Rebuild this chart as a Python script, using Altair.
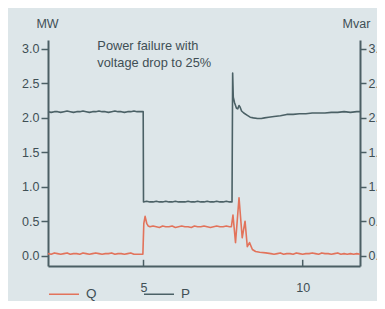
import altair as alt
import pandas as pd

# ---- data ----
p_time = [2.0, 2.1, 2.2, 2.3, 2.4, 2.5, 2.6, 2.7, 2.8, 2.9,
          3.0, 3.1, 3.2, 3.3, 3.4, 3.5, 3.6, 3.7, 3.8, 3.9,
          4.0, 4.1, 4.2, 4.3, 4.4, 4.5, 4.6, 4.7, 4.8, 4.9, 4.99,
          5.0, 5.1, 5.2, 5.3, 5.4, 5.5, 5.6, 5.7, 5.8, 5.9,
          6.0, 6.1, 6.2, 6.3, 6.4, 6.5, 6.6, 6.7, 6.8, 6.9,
          7.0, 7.1, 7.2, 7.3, 7.4, 7.5, 7.6, 7.7, 7.78,
          7.80, 7.82, 7.86, 7.92, 7.96, 8.00, 8.03, 8.08, 8.15, 8.25,
          8.35, 8.45, 8.58, 8.7, 8.8, 8.93, 9.1, 9.3, 9.5, 9.7,
          9.9, 10.1, 10.3, 10.5, 10.7, 10.9, 11.1, 11.3, 11.5, 11.7, 11.8]
p_value = [2.09, 2.08, 2.09, 2.09, 2.08, 2.09, 2.10, 2.09, 2.08, 2.09,
           2.09, 2.10, 2.09, 2.08, 2.09, 2.09, 2.10, 2.09, 2.09, 2.08,
           2.09, 2.10, 2.09, 2.09, 2.08, 2.09, 2.09, 2.10, 2.09, 2.09, 2.09,
           0.78, 0.79, 0.78, 0.78, 0.79, 0.78, 0.78, 0.79, 0.78, 0.78,
           0.79, 0.78, 0.78, 0.78, 0.79, 0.78, 0.78, 0.79, 0.78, 0.78,
           0.79, 0.78, 0.78, 0.79, 0.78, 0.78, 0.79, 0.78, 0.78,
           2.65, 2.30, 2.22, 2.14, 2.13, 2.18, 2.16, 2.10, 2.07, 2.04,
           2.01, 2.00, 1.99, 1.99, 2.00, 2.01, 2.02, 2.03, 2.05, 2.05,
           2.06, 2.06, 2.07, 2.07, 2.07, 2.08, 2.08, 2.09, 2.08, 2.09, 2.09]

q_time = [2.0, 2.1, 2.2, 2.3, 2.4, 2.5, 2.6, 2.7, 2.8, 2.9,
          3.0, 3.1, 3.2, 3.3, 3.4, 3.5, 3.6, 3.7, 3.8, 3.9,
          4.0, 4.1, 4.2, 4.3, 4.4, 4.5, 4.6, 4.7, 4.8, 4.9, 4.98,
          5.01, 5.05, 5.10, 5.15,
          5.2, 5.3, 5.4, 5.5, 5.6, 5.7, 5.8, 5.9, 6.0, 6.1,
          6.2, 6.3, 6.4, 6.5, 6.6, 6.7, 6.8, 6.9, 7.0, 7.1,
          7.2, 7.3, 7.4, 7.5, 7.6, 7.7,
          7.76, 7.81, 7.89, 8.00, 8.10, 8.19, 8.26, 8.33, 8.42, 8.52,
          8.65, 8.84, 9.0,
          9.1, 9.2, 9.3, 9.4, 9.5, 9.6, 9.7, 9.8, 9.9, 10.0,
          10.1, 10.2, 10.3, 10.4, 10.5, 10.6, 10.7, 10.8, 10.9, 11.0,
          11.1, 11.2, 11.3, 11.4, 11.5, 11.6, 11.7, 11.8]
q_value = [0.03, 0.02, 0.04, 0.03, 0.02, 0.03, 0.04, 0.02, 0.03, 0.03,
           0.02, 0.04, 0.03, 0.02, 0.03, 0.04, 0.03, 0.02, 0.03, 0.03,
           0.04, 0.02, 0.03, 0.03, 0.02, 0.03, 0.04, 0.02, 0.02, 0.02, 0.02,
           0.47, 0.57, 0.47, 0.43,
           0.42, 0.43, 0.42, 0.41, 0.43, 0.42, 0.42, 0.43, 0.41, 0.42,
           0.43, 0.42, 0.42, 0.41, 0.43, 0.42, 0.42, 0.43, 0.42, 0.41,
           0.42, 0.43, 0.42, 0.42, 0.43, 0.42,
           0.42, 0.59, 0.19, 0.84, 0.26, 0.50, 0.13, 0.19, 0.09, 0.06,
           0.05, 0.04, 0.03,
           0.02, 0.03, 0.04, 0.02, 0.03, 0.03, 0.02, 0.04, 0.03, 0.02,
           0.03, 0.03, 0.04, 0.03, 0.02, 0.04, 0.03, 0.03, 0.02, 0.03,
           0.04, 0.02, 0.03, 0.02, 0.03, 0.02, 0.03, 0.02]

series_names = ["Q", "P"]
series_colors = ["#e2735b", "#4b6166"]
x_ticks = [5, 10]
y_ticks = [0.0, 0.5, 1.0, 1.5, 2.0, 2.5, 3.0]
note_lines = ["Power failure with", "voltage drop to 25%"]
note_x = [3.55, 3.55]
note_y = [2.985, 2.74]

# ---- tables ----
df = pd.concat([
    pd.DataFrame({"t": q_time, "v": q_value, "s": "Q", "i": range(len(q_time))}),
    pd.DataFrame({"t": p_time, "v": p_value, "s": "P", "i": range(len(p_time))}),
], ignore_index=True)
notes = pd.DataFrame({"x": note_x, "y": note_y, "text": note_lines})
ticks = pd.DataFrame({"x": x_ticks, "y": [-0.15] * len(x_ticks), "y2": [-0.06] * len(x_ticks)})

BG = "#dde6e9"
INK = "#3f4f55"
AX = "#4b5f64"
FONT = "Liberation Sans, Arial, sans-serif"

xs = alt.Scale(domain=[2.0, 11.8], nice=False, zero=False)
ys = alt.Scale(domain=[-0.15, 3.13], nice=False, zero=False)

x_axis = alt.Axis(values=x_ticks, ticks=False, labelPadding=15, grid=False, title=None,
                  domainColor=AX, domainWidth=2, labelFontSize=12.5, labelColor=INK,
                  labelFont=FONT, format="d")

def y_axis(orient, title, tx, tick):
    return alt.Axis(orient=orient, values=y_ticks, format=".1f", grid=False,
                    domainColor=AX, domainWidth=2, tickColor=AX, tickWidth=1.5,
                    tickSize=tick, labelPadding=2, labelFontSize=12.5, labelColor=INK,
                    labelFont=FONT, title=title, titleAngle=0, titleX=tx, titleY=-17,
                    titleAlign="center", titleBaseline="middle", titleFont=FONT,
                    titleFontSize=12.5, titleFontWeight="normal", titleColor=INK)

lines = alt.Chart(df).mark_line(strokeWidth=1.6, strokeJoin="round").encode(
    x=alt.X("t:Q", scale=xs, axis=x_axis),
    y=alt.Y("v:Q", scale=ys, axis=y_axis("left", "MW", -1, 7)),
    color=alt.Color("s:N", scale=alt.Scale(domain=series_names, range=series_colors),
                    legend=alt.Legend(orient="none", legendX=0, legendY=238,
                                      direction="horizontal", title=None,
                                      symbolType="stroke", symbolSize=900,
                                      symbolStrokeWidth=1.5, labelFontSize=13.5,
                                      labelFont=FONT, labelColor=INK,
                                      columnPadding=44, labelOffset=6, padding=0)),
    order=alt.Order("i:Q"),
)

right = alt.Chart(df).mark_line(opacity=0).encode(
    x=alt.X("t:Q", scale=xs, axis=x_axis),
    y=alt.Y("v:Q", scale=ys, axis=y_axis("right", "Mvar", -4, 6)),
    detail="s:N",
)

xticks = alt.Chart(ticks).mark_rule(color=AX, strokeWidth=1.5).encode(
    x=alt.X("x:Q", scale=xs, axis=x_axis),
    y=alt.Y("y:Q", scale=ys, axis=None),
    y2="y2:Q",
)

note = alt.Chart(notes).mark_text(align="left", baseline="alphabetic", font=FONT,
                                  fontSize=12.8, color=INK).encode(
    x=alt.X("x:Q", scale=xs, axis=x_axis),
    y=alt.Y("y:Q", scale=ys, axis=None),
    text="text:N",
)

chart = alt.layer(lines, right, xticks, note).resolve_scale(y="independent").properties(
    width=312, height=226,
    autosize=alt.AutoSizeParams(type="none"),
    padding={"left": 40, "top": 32, "right": 17, "bottom": 35},
    background=BG,
).configure_view(stroke=None)

chart.save("out.html", embed_options={"renderer": "svg", "actions": False})
